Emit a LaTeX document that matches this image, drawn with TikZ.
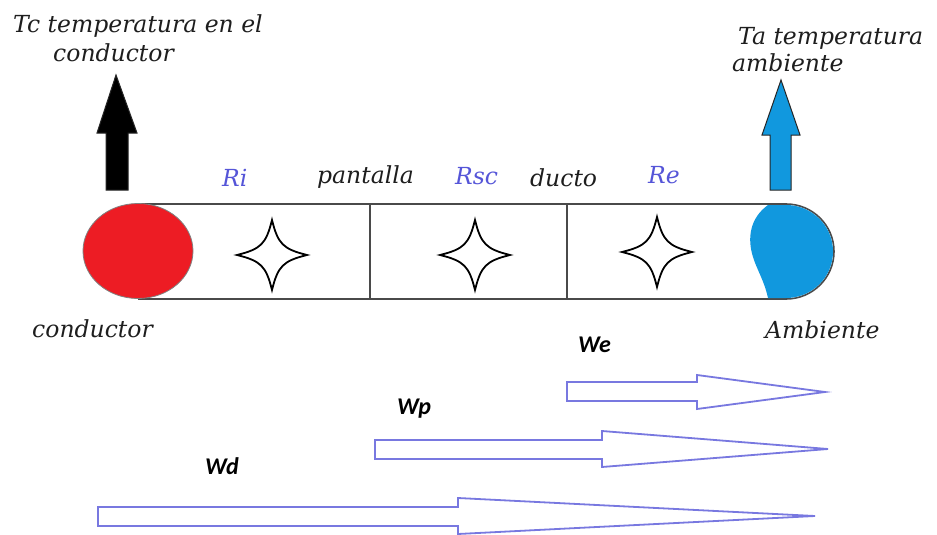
\documentclass[tikz,border=0pt]{standalone}
\usepackage{fontspec}
\usetikzlibrary{shapes.geometric}
\setmainfont{DejaVu Serif}
\newfontfamily\wfont{Carlito}
\definecolor{txtgray}{HTML}{1E1E1E}
\definecolor{lblue}{HTML}{5555D8}
\definecolor{tubegray}{HTML}{4A4A4A}
\definecolor{flowblue}{HTML}{7878E0}
\definecolor{condred}{HTML}{ED1C24}
\definecolor{ambblue}{HTML}{1198DE}
\tikzset{
  lbl/.style={font=\fontsize{23.5}{26}\selectfont\itshape, text=txtgray, inner sep=0pt, anchor=base west},
  rlbl/.style={lbl, text=lblue},
  wlbl/.style={font=\wfont\fontsize{24}{26}\selectfont\bfseries\itshape, text=black, inner sep=0pt, anchor=base west},
  tube/.style={draw=tubegray, line width=1.6pt},
  starline/.style={draw=black, line width=1.8pt, fill=white},
  flow/.style={draw=flowblue, line width=1.8pt, fill=white, line join=miter},
  uparrow/.style={draw=black!85, line width=1pt},
}
\newcommand{\fourstar}[2]{%
  \draw[starline] (#1,#2) ++(35,0) .. controls ++(-24,-6) and ++(6,24) .. ++(-35,-35)
     .. controls ++(-6,24) and ++(24,-6) .. ++(-35,35)
     .. controls ++(24,6) and ++(-6,-24) .. ++(35,35)
     .. controls ++(6,-24) and ++(-24,6) .. cycle;}
\begin{document}
\begin{tikzpicture}[x=1pt,y=-1pt]
\path[use as bounding box, fill=white] (0,0) rectangle (937,535);

% tube
\draw[tube] (138,204) -- (786,204) arc[start angle=-90, end angle=90, x radius=48, y radius=47.5] -- (138,299);
\draw[tube] (370,204) -- (370,299);
\draw[tube] (567,204) -- (567,299);

% ambient blob
\fill[ambblue] (768,205) -- (786,205) arc[start angle=-90, end angle=90, x radius=47, y radius=46.5]
  -- (768,298) .. controls (764,280) and (757,270) .. (753,257)
  .. controls (747,238) and (750,218) .. (768,205) -- cycle;

% conductor
\node[ellipse, draw=tubegray!70, line width=0.8pt, fill=condred, minimum width=110pt, minimum height=95pt, inner sep=0pt] (cond) at (138,251) {};

% stars
\fourstar{272}{255}
\fourstar{475}{255}
\fourstar{657}{252}

% top arrows
\filldraw[uparrow, fill=black] (106,190) -- (106,133) -- (97,133) -- (116,75) -- (137,133) -- (128,133) -- (128,190) -- cycle;
\filldraw[uparrow, fill=ambblue] (770,190) -- (770,135) -- (762,135) -- (781,80) -- (800,135) -- (791,135) -- (791,190) -- cycle;

% labels
\node[lbl] (tc) at (13,33) {Tc temperatura en el};
\node[lbl] (tc2) at (53,62) {conductor};
\node[lbl] (ta) at (738,45) {Ta temperatura};
\node[lbl] (ta2) at (732,72) {ambiente};
\node[rlbl] (ri) at (222,186) {Ri};
\node[lbl] (pant) at (317,183) {pantalla};
\node[rlbl] (rsc) at (455,184) {Rsc};
\node[lbl] (duc) at (530,186) {ducto};
\node[rlbl] (re) at (648,183) {Re};
\node[lbl] (condl) at (32,337) {conductor};
\node[lbl] (amb) at (765,338) {Ambiente};
\node[wlbl] (we) at (578,352) {We};
\node[wlbl] (wp) at (397,414) {Wp};
\node[wlbl] (wd) at (205,474) {Wd};

% heat flow arrows
\draw[flow] (567,382) -- (697,382) -- (697,375) -- (825,392) -- (697,409) -- (697,401) -- (567,401) -- cycle;
\draw[flow] (375,440) -- (602,440) -- (602,431) -- (828,449) -- (602,467) -- (602,459) -- (375,459) -- cycle;
\draw[flow] (98,507) -- (458,507) -- (458,498) -- (815,516) -- (458,534) -- (458,526) -- (98,526) -- cycle;
\end{tikzpicture}
\end{document}
